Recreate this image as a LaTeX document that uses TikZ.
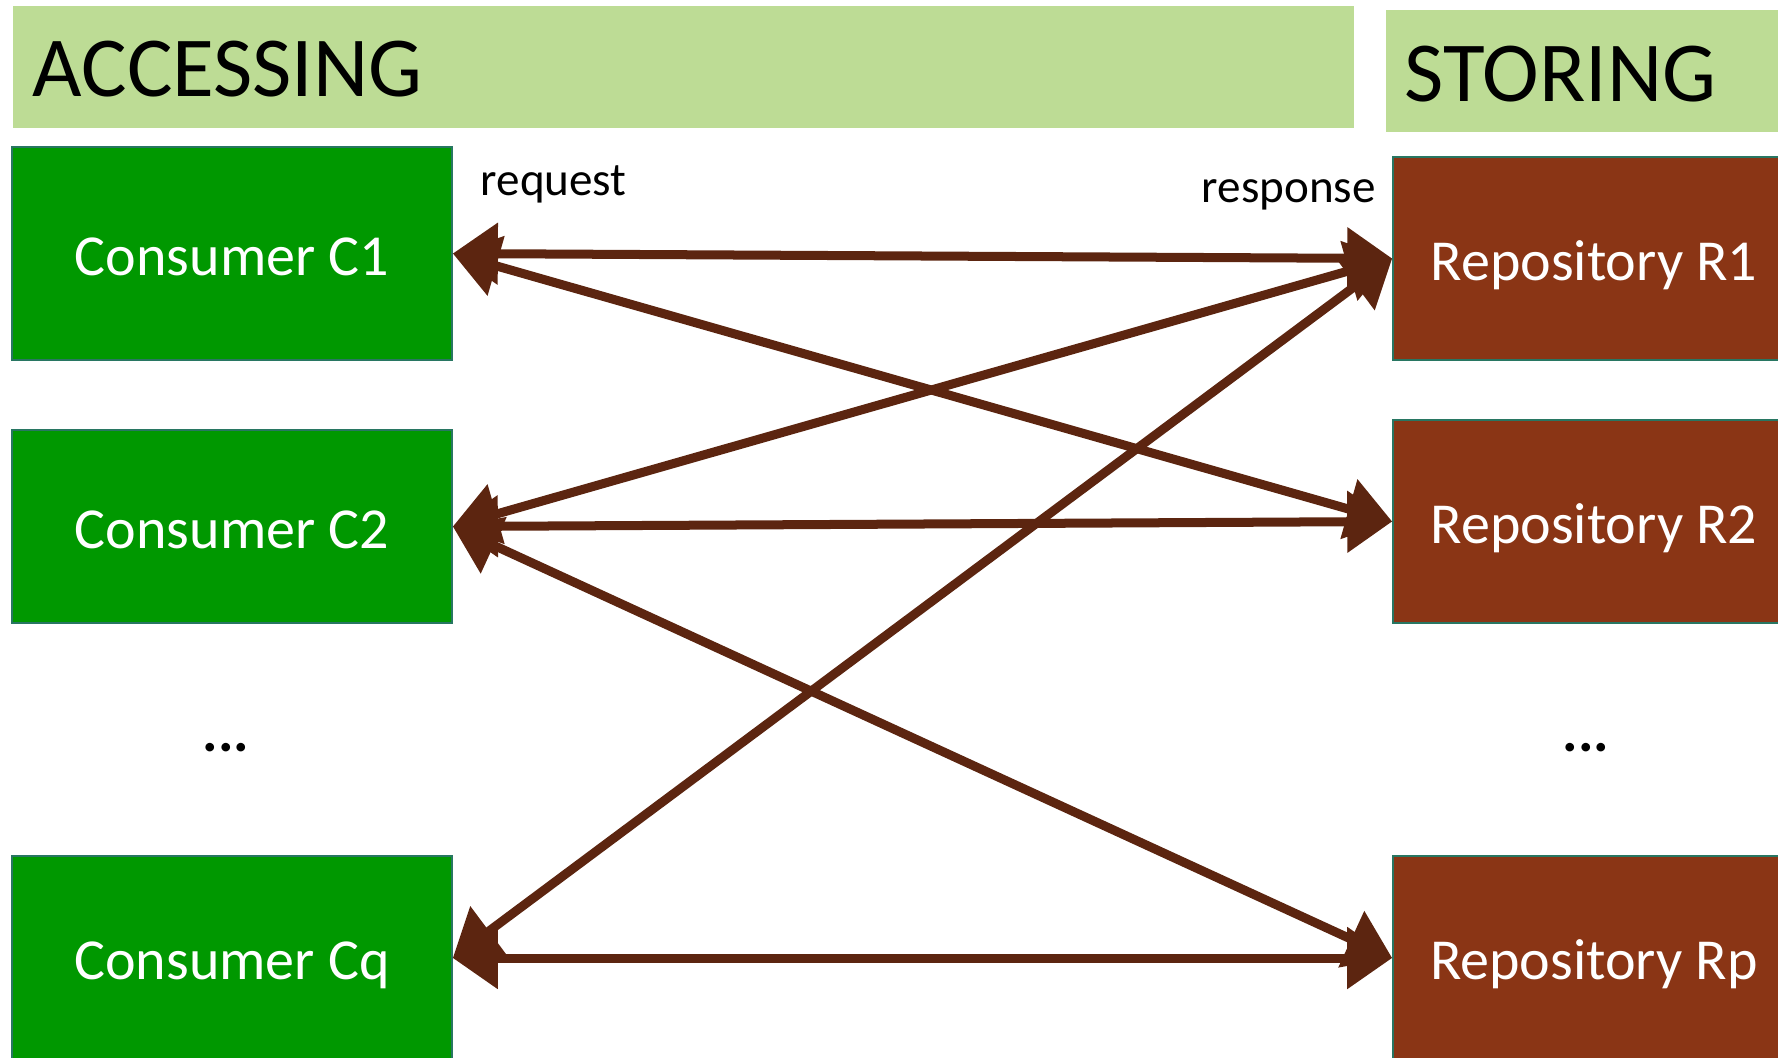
\documentclass[tikz,border=0pt]{standalone}
\usepackage{fontspec}
\setmainfont{Carlito}
\usetikzlibrary{arrows.meta}

\definecolor{headfill}{RGB}{189,220,149}
\definecolor{consfill}{RGB}{0,152,0}
\definecolor{repofill}{RGB}{138,53,21}
\definecolor{boxedge}{RGB}{40,118,98}
\definecolor{linkcol}{RGB}{92,37,16}

\tikzset{
  header/.style={fill=headfill, draw=none},
  headtext/.style={anchor=base west, inner sep=0pt, font=\fontsize{24.3}{29}\selectfont, text=black},
  unit/.style={draw=boxedge, line width=0.4pt, text=white, inner sep=0pt,
               text height=0.43cm, text depth=0pt,
               font=\fontsize{16.5}{20}\selectfont},
  consumer/.style={unit, fill=consfill, minimum width=4.40cm},
  repository/.style={unit, fill=repofill, minimum width=4.02cm},
  msg/.style={anchor=base west, inner sep=0pt, font=\fontsize{13.4}{16}\selectfont, text=black},
  dots/.style={inner sep=0pt, font=\fontsize{16.5}{20}\selectfont\bfseries, text=black},
  link/.style={draw=linkcol, line width=0.09cm,
               {Triangle[length=4.5mm, width=6mm, fill=linkcol]}-{Triangle[length=4.5mm, width=6mm, fill=linkcol]}}
}

\begin{document}
\begin{tikzpicture}[x=0.01cm, y=-0.01cm]
  \useasboundingbox (0,0) rectangle (1778,1057);
  \clip (0,0) rectangle (1778,1057);

  % section headers
  \fill[header] (13,6) rectangle (1354,128);
  \fill[header] (1386,10) rectangle (1800,132);
  \node[headtext] (hacc) at (32,96) {ACCESSING};
  \node[headtext] (hsto) at (1404,101) {STORING};

  % consumers
  \node[consumer, minimum height=2.13cm] (c1) at (232,253.5) {Consumer C1};
  \node[consumer, minimum height=1.93cm] (c2) at (232,526.5) {Consumer C2};
  \node[consumer, minimum height=2.04cm] (cq) at (232,958) {Consumer Cq};
  \node[dots] (cdots) at (226,748) {...};

  % repositories
  \node[repository, minimum height=2.03cm] (r1) at (1594,258.5) {Repository R1};
  \node[repository, minimum height=2.03cm] (r2) at (1594,521.5) {Repository R2};
  \node[repository, minimum height=2.04cm] (rp) at (1594,958) {Repository Rp};
  \node[dots] (rdots) at (1586,748) {...};

  % labels
  \node[msg] (req) at (480,195) {request};
  \node[msg] (resp) at (1201,202) {response};

  % links between consumers and repositories
  \draw[link] (c1.east) -- (r1.west);
  \draw[link] (c1.east) -- (r2.west);
  \draw[link] (c2.east) -- (r1.west);
  \draw[link] (c2.east) -- (r2.west);
  \draw[link] (c2.east) -- (rp.west);
  \draw[link] (cq.east) -- (r1.west);
  \draw[link] (cq.east) -- (rp.west);
\end{tikzpicture}
\end{document}
